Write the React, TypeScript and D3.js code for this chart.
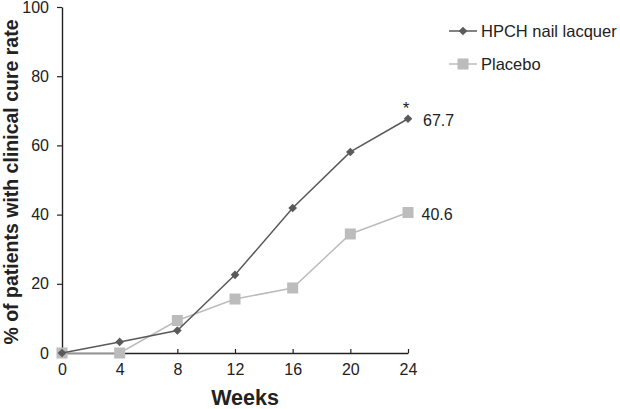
import React, { useEffect, useRef } from 'react'
import * as d3 from 'd3'

const weeks = [0, 4, 8, 12, 16, 20, 24]
const hpch = [0, 3.2, 6.5, 22.6, 41.9, 58.1, 67.7]
const placebo = [0, 0, 9.4, 15.6, 18.8, 34.4, 40.6]
const seriesNames = ['HPCH nail lacquer', 'Placebo']
const yTicks = [0, 20, 40, 60, 80, 100]

const App = () => {
  const ref = useRef<SVGSVGElement>(null)

  useEffect(() => {
    const svg = d3.select(ref.current)
    svg.selectAll('*').remove()
    const font = '"Liberation Sans", Arial, sans-serif'

    const x = d3.scaleLinear().domain([0, 24]).range([62, 408])
    const y = d3.scaleLinear().domain([0, 100]).range([353, 7])

    // y axis
    const yAxis = svg.append('g')
      .attr('transform', 'translate(62,0)')
      .call(d3.axisLeft(y).tickValues(yTicks).tickSizeInner(5).tickSizeOuter(0).tickPadding(8))
    yAxis.select('.domain').attr('stroke', '#222').attr('stroke-width', 1.4)
    yAxis.selectAll('line').attr('stroke', '#222').attr('stroke-width', 1.2)
    yAxis.selectAll('text').style('font-family', font).style('font-size', '16px').attr('fill', '#222')

    // x axis, ticks point inward
    const xAxis = svg.append('g')
      .attr('transform', 'translate(0,353)')
      .call(d3.axisBottom(x).tickValues(weeks).tickSizeInner(-4).tickSizeOuter(0).tickPadding(11))
    xAxis.select('.domain').attr('stroke', '#222').attr('stroke-width', 1.4)
    xAxis.selectAll('line').attr('stroke', '#222').attr('stroke-width', 1.2)
    xAxis.selectAll('text').style('font-family', font).style('font-size', '16px').attr('fill', '#222')

    const line = d3.line<number>().x((d, i) => x(weeks[i])).y(d => y(d))

    const colors = ['#5a5a5a', '#bcbcbc']

    // placebo
    svg.append('path').datum(placebo).attr('d', line)
      .attr('fill', 'none').attr('stroke', colors[1]).attr('stroke-width', 1.5)
    svg.selectAll('.sq').data(placebo).enter().append('rect')
      .attr('x', (d, i) => x(weeks[i]) - 5.5).attr('y', d => y(d) - 5.5)
      .attr('width', 11).attr('height', 11).attr('fill', colors[1])

    // HPCH
    svg.append('path').datum(hpch).attr('d', line)
      .attr('fill', 'none').attr('stroke', colors[0]).attr('stroke-width', 1.5)
    const diamond = d3.symbol().type(d3.symbolDiamond2).size(48)
    svg.selectAll('.dm').data(hpch).enter().append('path')
      .attr('d', diamond)
      .attr('transform', (d, i) => `translate(${x(weeks[i])},${y(d)})`)
      .attr('fill', colors[0])

    // end labels
    const last = weeks.length - 1
    svg.append('text').attr('x', x(24) + 15).attr('y', y(hpch[last]) + 7.5)
      .style('font-family', font).style('font-size', '16px').attr('fill', '#222').text(hpch[last].toFixed(1))
    svg.append('text').attr('x', x(24) + 13.5).attr('y', y(placebo[last]) + 7.5)
      .style('font-family', font).style('font-size', '16px').attr('fill', '#222').text(placebo[last].toFixed(1))
    svg.append('text').attr('x', x(24) - 2).attr('y', y(hpch[last]) - 5).attr('text-anchor', 'middle')
      .style('font-family', font).style('font-size', '17px').attr('fill', '#222').text('*')

    // legend
    const legend = svg.append('g')
    seriesNames.forEach((name, i) => {
      const ly = 31 + i * 33
      legend.append('line').attr('x1', 449).attr('x2', 477).attr('y1', ly).attr('y2', ly)
        .attr('stroke', colors[i]).attr('stroke-width', 1.5)
      if (i === 0) {
        legend.append('path').attr('d', diamond).attr('transform', `translate(463,${ly})`).attr('fill', colors[i])
      } else {
        legend.append('rect').attr('x', 457.5).attr('y', ly - 5.5).attr('width', 11).attr('height', 11).attr('fill', colors[i])
      }
      legend.append('text').attr('x', 481).attr('y', ly + 6)
        .style('font-family', font).style('font-size', '16.5px').attr('fill', '#222').text(name)
    })

    // axis titles
    svg.append('text').attr('x', 245).attr('y', 405).attr('text-anchor', 'middle')
      .style('font-family', font).style('font-size', '21.5px').style('font-weight', 'bold').attr('fill', '#222')
      .text('Weeks')
    svg.append('text').attr('transform', 'translate(18,182) rotate(-90)').attr('text-anchor', 'middle')
      .style('font-family', font).style('font-size', '19.5px').style('font-weight', 'bold').attr('fill', '#222')
      .text('% of patients with clinical cure rate')
  }, [])

  return (
    <svg ref={ref} width={620} height={409} style={{ position: 'absolute', left: 0, top: 0, background: '#fff' }} />
  )
}

export default App
